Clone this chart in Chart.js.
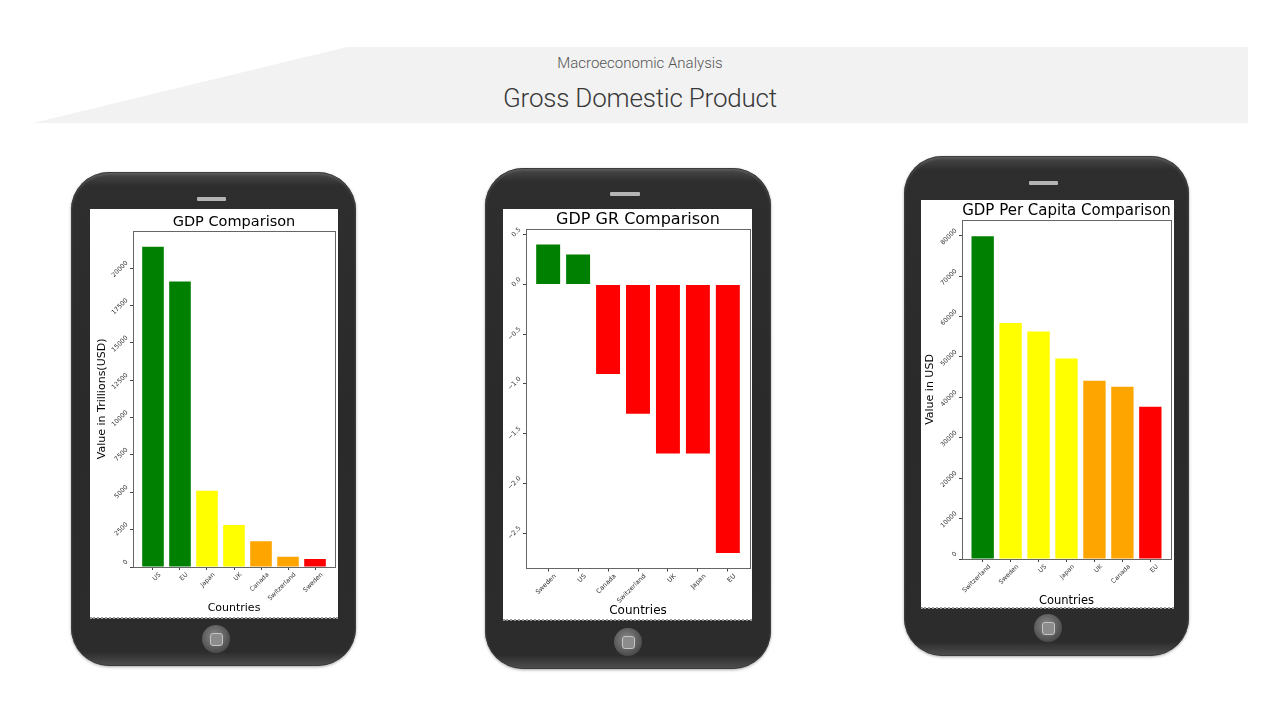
<!DOCTYPE html>
<html>
<head>
<meta charset="utf-8">
<script src="https://cdn.jsdelivr.net/npm/chart.js@4/dist/chart.umd.min.js"></script>
<style>
  html, body { margin: 0; padding: 0; background: #fff; }
  body { width: 1280px; height: 720px; position: relative; overflow: hidden; font-family: Roboto, "DejaVu Sans", sans-serif; }
  .band { position: absolute; left: 0; top: 0; width: 1280px; height: 720px; }
  .sub { position: absolute; left: 0; width: 1280px; top: 53px; text-align: center; font-size: 15px; font-weight: 300; color: #555; line-height: 20px; }
  .head { position: absolute; left: 0; width: 1280px; top: 82px; text-align: center; font-size: 26px; font-weight: 300; color: #383838; line-height: 32px; letter-spacing: -0.2px; }
  .phone { position: absolute; border-radius: 38px; background: linear-gradient(#4a4a4a 0px, #2e2e2e 14px, #2a2a2a 50%, #2c2c2c calc(100% - 14px), #505050 100%);
           box-shadow: inset 0 0 0 1px #3c3c3c, inset 0 2px 3px rgba(255,255,255,0.18), 0 1px 3px rgba(0,0,0,0.35); }
  .speaker { position: absolute; background: #b4b4b4; border-radius: 1px; }
  .home { position: absolute; width: 28px; height: 28px; border-radius: 50%; background: radial-gradient(circle at 45% 40%, #8a8a8a 0%, #5a5a5a 55%, #333 100%); }
  .home::after { content: ""; position: absolute; left: 8px; top: 8px; width: 11px; height: 11px; border-radius: 3px; background: #8c8c8c; border: 1px solid #c4c4c4; }
  .screen { position: absolute; background: #fff; }
  .screen canvas { position: absolute; left: 0; top: 0; }
  .edge { position: absolute; height: 0; border-bottom: 2px dotted #9a9a9a; }
</style>
</head>
<body>
<svg class="band" width="1280" height="720"><polygon points="347,47 1248,47 1248,123 33,123" fill="#f2f2f2"/></svg>
<div class="sub">Macroeconomic Analysis</div>
<div class="head">Gross Domestic Product</div>

<div class="phone" style="left:71px;top:172px;width:285px;height:494px;"></div>
<div class="speaker" style="left:197px;top:197px;width:29px;height:4px;"></div>
<div class="screen" style="left:90px;top:209px;width:248px;height:409px;"><canvas id="c1" width="248" height="409"></canvas></div>
<div class="edge" style="left:90px;top:617px;width:248px;"></div>
<div class="home" style="left:202px;top:625px;"></div>

<div class="phone" style="left:485px;top:168px;width:286px;height:501px;"></div>
<div class="speaker" style="left:610px;top:192px;width:30px;height:4px;"></div>
<div class="screen" style="left:503px;top:209px;width:249px;height:411px;"><canvas id="c2" width="249" height="411"></canvas></div>
<div class="edge" style="left:503px;top:619px;width:249px;"></div>
<div class="home" style="left:614px;top:628px;"></div>

<div class="phone" style="left:904px;top:156px;width:285px;height:500px;"></div>
<div class="speaker" style="left:1029px;top:181px;width:29px;height:4px;"></div>
<div class="screen" style="left:921px;top:200px;width:253px;height:408px;"><canvas id="c3" width="253" height="408"></canvas></div>
<div class="edge" style="left:921px;top:607px;width:253px;"></div>
<div class="home" style="left:1034px;top:614px;"></div>

<script>
// data
const gdpCountries = ["US", "EU", "Japan", "UK", "Canada", "Switzerland", "Sweden"];
const gdpValues = [21430, 19100, 5110, 2810, 1720, 690, 540];
const gdpTicks = [0, 2500, 5000, 7500, 10000, 12500, 15000, 17500, 20000];

const growthCountries = ["Sweden", "US", "Canada", "Switzerland", "UK", "Japan", "EU"];
const growthValues = [0.4, 0.3, -0.9, -1.3, -1.7, -1.7, -2.7];
const growthTicks = [-2.5, -2.0, -1.5, -1.0, -0.5, 0.0, 0.5];

const perCapitaCountries = ["Switzerland", "Sweden", "US", "Japan", "UK", "Canada", "EU"];
const perCapitaValues = [79900, 58400, 56300, 49600, 44100, 42600, 37700];
const perCapitaTicks = [0, 10000, 20000, 30000, 40000, 50000, 60000, 70000, 80000];

// bar colours (style only)
const G = "#008000", Y = "#ffff00", O = "#ffa500", R = "#ff0000";
const gdpColors = [G, G, Y, Y, O, O, R];
const growthColors = [G, G, R, R, R, R, R];
const perCapitaColors = [G, Y, Y, Y, O, O, R];

Chart.defaults.font.family = "'DejaVu Sans', sans-serif";
Chart.defaults.color = "#222";

// matplotlib-like box around the plot
const frame = {
    id: "frame",
    afterDraw(chart) {
        const a = chart.chartArea, ctx = chart.ctx;
        ctx.save();
        ctx.strokeStyle = "#666";
        ctx.lineWidth = 1;
        ctx.strokeRect(Math.round(a.left) + 0.5, Math.round(a.top) + 0.5, Math.round(a.right - a.left), Math.round(a.bottom - a.top));
        ctx.restore();
    }
};

function phoneChart(id, labels, values, ticks, colors, o) {
    const lo = Math.min(0, ...values), hi = Math.max(0, ...values);
    const span = hi - lo;
    const yMin = lo < 0 ? lo - span * 0.05 : 0;
    const yMax = hi + span * 0.05;
    return new Chart(document.getElementById(id), {
        type: "bar",
        data: {
            datasets: [{
                data: values.map((v, i) => ({ x: i, y: v })),
                backgroundColor: colors,
                barPercentage: 0.8,
                categoryPercentage: 1
            }]
        },
        options: {
            responsive: false,
            animation: false,
            layout: { padding: { right: o.padRight } },
            plugins: {
                legend: { display: false },
                tooltip: { enabled: false },
                title: {
                    display: true,
                    text: o.title,
                    fullSize: false,
                    color: "#000",
                    font: { size: o.titleSize, weight: "normal" },
                    padding: { top: o.titleTop, bottom: 0 }
                }
            },
            scales: {
                x: {
                    type: "linear",
                    offset: false,
                    min: -0.74,
                    max: labels.length - 0.26,
                    afterBuildTicks: s => { s.ticks = labels.map((_, i) => ({ value: i })); },
                    afterFit: s => { s.height = o.xHeight; },
                    grid: { display: true, offset: false, drawOnChartArea: false, drawTicks: true, tickLength: 3, color: "#444" },
                    border: { display: false },
                    ticks: {
                        autoSkip: false,
                        minRotation: 45,
                        maxRotation: 45,
                        labelOffset: 7,
                        padding: 1,
                        color: "#333",
                        font: { size: o.tickSize },
                        callback: v => labels[v]
                    },
                    title: {
                        display: true,
                        text: "Countries",
                        color: "#000",
                        font: { size: o.xTitleSize },
                        padding: { top: 0, bottom: o.xTitlePad }
                    }
                },
                y: {
                    min: yMin,
                    max: yMax,
                    afterBuildTicks: s => { s.ticks = ticks.map(v => ({ value: v })); },
                    afterFit: s => { s.width = o.yWidth; },
                    grid: { display: true, drawOnChartArea: false, drawTicks: true, tickLength: 3, color: "#444" },
                    border: { display: false },
                    ticks: {
                        autoSkip: false,
                        minRotation: 45,
                        maxRotation: 45,
                        labelOffset: -6,
                        padding: 3,
                        color: "#333",
                        font: { size: o.tickSize },
                        callback: o.fmt
                    },
                    title: {
                        display: !!o.yTitle,
                        text: o.yTitle,
                        color: "#000",
                        font: { size: 11 },
                        padding: { top: o.yTitlePad, bottom: 0 }
                    }
                }
            }
        },
        plugins: [frame]
    });
}

phoneChart("c1", gdpCountries, gdpValues, gdpTicks, gdpColors, {
    title: "GDP Comparison", titleSize: 14.5, titleTop: 4.3,
    yWidth: 43, xHeight: 51, padRight: 3,
    fmt: v => String(v), tickSize: 6.3,
    xTitleSize: 11, xTitlePad: 3.4,
    yTitle: "Value in Trillions(USD)", yTitlePad: 5.4
});

phoneChart("c2", growthCountries, growthValues, growthTicks, growthColors, {
    title: "GDP GR Comparison", titleSize: 16, titleTop: 1,
    yWidth: 23, xHeight: 51.5, padRight: 2,
    fmt: v => v.toFixed(1).replace("-", "\u2212"), tickSize: 6.5,
    xTitleSize: 12, xTitlePad: 2.3,
    yTitle: "", yTitlePad: 0
});

phoneChart("c3", perCapitaCountries, perCapitaValues, perCapitaTicks, perCapitaColors, {
    title: "GDP Per Capita Comparison", titleSize: 15, titleTop: 2,
    yWidth: 41, xHeight: 49, padRight: 3,
    fmt: v => String(v), tickSize: 6.3,
    xTitleSize: 11.5, xTitlePad: 0.5,
    yTitle: "Value in USD", yTitlePad: 2.4
});
</script>
</body>
</html>
